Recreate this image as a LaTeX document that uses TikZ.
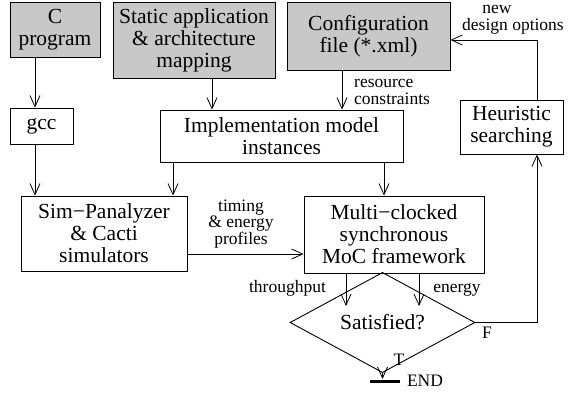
\documentclass[tikz,border=0pt]{standalone}
\usepackage{fontspec}
\setmainfont{Liberation Serif}
\newfontfamily\tnr{Liberation Serif}
\usetikzlibrary{arrows.meta,shapes.geometric}
\definecolor{boxgray}{RGB}{200,200,200}
\tikzset{
  box/.style={draw, line width=0.9pt, inner sep=0pt, align=center, font=\tnr\fontsize{21.5}{22}\selectfont},
  graybox/.style={box, fill=boxgray},
  lbl/.style={inner sep=0pt, font=\tnr\fontsize{17.5}{16.5}\selectfont},
  arr/.style={line width=0.8pt, -{Straight Barb[length=11pt,width=10pt,line width=0.8pt]}},
  ln/.style={line width=0.8pt}
}
\begin{document}
\begin{tikzpicture}[x=1pt,y=-1pt]
\useasboundingbox (0,0) rectangle (570,394);
% boxes
\node[graybox, minimum width=90pt, minimum height=55pt] (cprog) at (55,29.5) {C\\program};
\node[graybox, minimum width=162pt, minimum height=76pt] (static) at (194,40) {Static application\\\& architecture\\mapping};
\node[graybox, minimum width=163pt, minimum height=68pt] (config) at (368.5,36) {Configuration\\file (*.xml)};
\node[box, minimum width=63pt, minimum height=36pt] (gcc) at (41.5,126) {gcc};
\node[box, minimum width=243pt, minimum height=52pt] (impl) at (281.5,136) {Implementation model\\instances};
\node[box, minimum width=103pt, minimum height=54pt] (heur) at (511.5,127) {Heuristic\\searching};
\node[box, minimum width=166pt, minimum height=75pt] (sim) at (104,233.5) {Sim\char"2212Panalyzer\\\& Cacti\\simulators};
\node[box, minimum width=180pt, minimum height=77pt] (multi) at (394,234.5) {Multi\char"2212clocked\\synchronous\\MoC framework};
\node[box, shape=diamond, minimum width=185pt, minimum height=55pt] (sat) at (382.5,322.5) {Satisfied?};
% helper coordinates
\coordinate (xa) at (35,0);
\coordinate (xb) at (212,0);
\coordinate (xc) at (342,0);
\coordinate (xd) at (173,0);
\coordinate (xe) at (384,0);
\coordinate (xh) at (537,0);
\coordinate (yh) at (0,254);
\coordinate (yc) at (0,40);
\coordinate (t1) at (346,306);
\coordinate (t2) at (419,306);
\coordinate (endtop) at (0,379);
\coordinate (endl) at (370,381);
\coordinate (endr) at (400,381);
% connectors
\draw[arr] (cprog.south -| xa) -- (gcc.north -| xa);
\draw[arr] (gcc.south -| xa) -- (sim.north -| xa);
\draw[arr] (static.south -| xb) -- (impl.north -| xb);
\draw[arr] (config.south -| xc) -- (impl.north -| xc);
\draw[arr] (impl.south -| xd) -- (sim.north -| xd);
\draw[arr] (impl.south -| xe) -- (multi.north -| xe);
\draw[arr] (sim.east |- yh) -- (multi.west |- yh);
\draw[arr] (multi.south -| t1) -- (t1);
\draw[arr] (multi.south -| t2) -- (t2);
\draw[arr] (sat.east) -- (sat.east -| xh) -- (heur.south -| xh);
\draw[arr] (heur.north -| xh) -- (xh |- yc) -- (config.east |- yc);
\draw[arr] (sat.south) -- (sat.south |- endtop);
\draw[line width=3pt] (endl) -- (endr);
% labels
\node[lbl, align=left, anchor=base west] (lres) at (354,104) {resource\\constraints};
\node[lbl, align=center, anchor=base] (lnew) at (513,30) {new\rule{32pt}{0pt}\\design options};
\node[lbl, align=center, anchor=base] (ltim) at (241,244) {timing\\\& energy\\profiles};
\node[lbl, anchor=base] (lthr) at (287.5,292) {throughput};
\node[lbl, anchor=base] (lene) at (457,292) {energy};
\node[lbl, anchor=base] (lf) at (487,338) {F};
\node[lbl, anchor=base] (lt) at (399,365) {T};
\node[lbl, anchor=base] (lend) at (425,386) {END};
\end{tikzpicture}
\end{document}
